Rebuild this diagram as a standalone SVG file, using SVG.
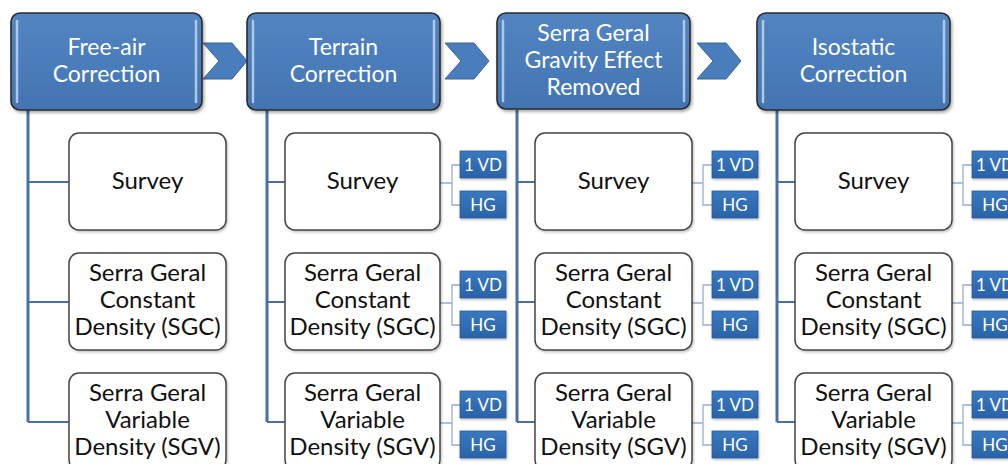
<svg xmlns="http://www.w3.org/2000/svg" width="1008" height="464" viewBox="0 0 1008 464">
  <defs>
    <linearGradient id="hdrFill" x1="0" y1="0" x2="0" y2="1">
      <stop offset="0" stop-color="#5285c2"/>
      <stop offset="1" stop-color="#4374b2"/>
    </linearGradient>
    <linearGradient id="tagFill" x1="0" y1="0" x2="0" y2="1">
      <stop offset="0" stop-color="#3a78c0"/>
      <stop offset="1" stop-color="#2a63a8"/>
    </linearGradient>
    <filter id="shadow" x="-10%" y="-10%" width="125%" height="130%">
      <feDropShadow dx="1.5" dy="2" stdDeviation="1.5" flood-color="#000" flood-opacity="0.35"/>
    </filter>
    <filter id="softShadow" x="-10%" y="-10%" width="125%" height="130%">
      <feDropShadow dx="1" dy="1.5" stdDeviation="1" flood-color="#000" flood-opacity="0.25"/>
    </filter>
  </defs>
  <style>
    .hdr { fill: url(#hdrFill); stroke: #2b2b2b; stroke-width: 1.6; filter: url(#shadow); }
    .gloss { stroke: #b9d0ec; stroke-width: 2.5; stroke-linecap: round; opacity: 0.9; }
    .hdrText { font-family: Lato, "Open Sans", sans-serif; font-size: 23px; fill: #ffffff; text-anchor: middle; }
    .chev { fill: #4a7dbb; stroke: #3a6599; stroke-width: 1; }
    .child { fill: #ffffff; stroke: #454545; stroke-width: 1.5; filter: url(#softShadow); }
    .childText { font-family: Lato, "Open Sans", sans-serif; font-size: 24px; fill: #111111; text-anchor: middle; }
    .tag { fill: url(#tagFill); stroke: #285a98; stroke-width: 0.8; filter: url(#softShadow); }
    .tagText { font-family: Lato, "Open Sans", sans-serif; font-size: 17px; fill: #ffffff; text-anchor: middle; }
    .trunk { fill: none; stroke: #4670a6; stroke-width: 3; }
    .branch { fill: none; stroke: #4670a6; stroke-width: 2.2; }
    .bracket { fill: none; stroke: #97afcf; stroke-width: 1.3; }
  </style>

  <!-- process arrows between stages -->
  <g id="chevrons">
    <polygon class="chev" points="203,43 232,43 247,61 232,79 203,79 219,61"/>
    <polygon class="chev" points="445,43 474,43 489,61 474,79 445,79 461,61"/>
    <polygon class="chev" points="697,43 726,43 741,61 726,79 697,79 713,61"/>
  </g>

  <!-- connectors: stage trunks, row branches, tag brackets -->
  <g id="connectors">
    <path class="trunk" d="M28,110 V422"/>
    <path class="trunk" d="M267,110 V422"/>
    <path class="trunk" d="M517,110 V422"/>
    <path class="trunk" d="M777,110 V422"/>

    <path class="branch" d="M28,182 H69 M28,302 H69 M28,422 H69"/>
    <path class="branch" d="M267,182 H285 M267,302 H285 M267,422 H285"/>
    <path class="branch" d="M517,182 H535 M517,302 H535 M517,422 H535"/>
    <path class="branch" d="M777,182 H795 M777,302 H795 M777,422 H795"/>

    <path class="bracket" d="M440,183 H452 M461,165 H452 V205 H461"/>
    <path class="bracket" d="M440,303 H452 M461,285 H452 V325 H461"/>
    <path class="bracket" d="M440,423 H452 M461,405 H452 V445 H461"/>
    <path class="bracket" d="M692,183 H703 M712,165 H703 V205 H712"/>
    <path class="bracket" d="M692,303 H703 M712,285 H703 V325 H712"/>
    <path class="bracket" d="M692,423 H703 M712,405 H703 V445 H712"/>
    <path class="bracket" d="M952,183 H963 M972,165 H963 V205 H972"/>
    <path class="bracket" d="M952,303 H963 M972,285 H963 V325 H972"/>
    <path class="bracket" d="M952,423 H963 M972,405 H963 V445 H972"/>
  </g>

  <!-- stage headers -->
  <g id="stage-free-air">
    <rect class="hdr" x="11" y="13" width="191" height="97" rx="9"/>
    <path class="gloss" d="M17,21 V102 M196,21 V102"/>
    <text class="hdrText" x="106.5" y="55">Free-air</text>
    <text class="hdrText" x="106.5" y="82">Correction</text>
  </g>
  <g id="stage-terrain">
    <rect class="hdr" x="247" y="13" width="193" height="97" rx="9"/>
    <path class="gloss" d="M253,21 V102 M434,21 V102"/>
    <text class="hdrText" x="343.5" y="55">Terrain</text>
    <text class="hdrText" x="343.5" y="82">Correction</text>
  </g>
  <g id="stage-sg-removed">
    <rect class="hdr" x="497" y="13" width="193" height="96" rx="9"/>
    <path class="gloss" d="M503,21 V101 M684,21 V101"/>
    <text class="hdrText" x="593.5" y="41">Serra Geral</text>
    <text class="hdrText" x="593.5" y="68">Gravity Effect</text>
    <text class="hdrText" x="593.5" y="95">Removed</text>
  </g>
  <g id="stage-isostatic">
    <rect class="hdr" x="757" y="13" width="193" height="97" rx="9"/>
    <path class="gloss" d="M763,21 V102 M944,21 V102"/>
    <text class="hdrText" x="853.5" y="55">Isostatic</text>
    <text class="hdrText" x="853.5" y="82">Correction</text>
  </g>

  <!-- column 1 -->
  <g id="c1-survey">
    <rect class="child" x="69" y="133" width="157" height="97" rx="10"/>
    <text class="childText" x="147.5" y="189">Survey</text>
  </g>
  <g id="c1-sgc">
    <rect class="child" x="69" y="253" width="157" height="97" rx="10"/>
    <text class="childText" x="147.5" y="281">Serra Geral</text>
    <text class="childText" x="147.5" y="308">Constant</text>
    <text class="childText" x="147.5" y="335">Density (SGC)</text>
  </g>
  <g id="c1-sgv">
    <rect class="child" x="69" y="373" width="157" height="97" rx="10"/>
    <text class="childText" x="147.5" y="401">Serra Geral</text>
    <text class="childText" x="147.5" y="428">Variable</text>
    <text class="childText" x="147.5" y="455">Density (SGV)</text>
  </g>

  <!-- column 2 -->
  <g id="c2-survey">
    <rect class="child" x="285" y="133" width="155" height="97" rx="10"/>
    <text class="childText" x="362.5" y="189">Survey</text>
  </g>
  <g id="c2-sgc">
    <rect class="child" x="285" y="253" width="155" height="97" rx="10"/>
    <text class="childText" x="362.5" y="281">Serra Geral</text>
    <text class="childText" x="362.5" y="308">Constant</text>
    <text class="childText" x="362.5" y="335">Density (SGC)</text>
  </g>
  <g id="c2-sgv">
    <rect class="child" x="285" y="373" width="155" height="97" rx="10"/>
    <text class="childText" x="362.5" y="401">Serra Geral</text>
    <text class="childText" x="362.5" y="428">Variable</text>
    <text class="childText" x="362.5" y="455">Density (SGV)</text>
  </g>
  <g id="c2-tags">
    <rect class="tag" x="460" y="151" width="46" height="27"/>
    <text class="tagText" x="483" y="170.5">1 VD</text>
    <rect class="tag" x="460" y="191" width="46" height="27"/>
    <text class="tagText" x="483" y="210.5">HG</text>
    <rect class="tag" x="460" y="271" width="46" height="27"/>
    <text class="tagText" x="483" y="290.5">1 VD</text>
    <rect class="tag" x="460" y="311" width="46" height="27"/>
    <text class="tagText" x="483" y="330.5">HG</text>
    <rect class="tag" x="460" y="391" width="46" height="27"/>
    <text class="tagText" x="483" y="410.5">1 VD</text>
    <rect class="tag" x="460" y="431" width="46" height="27"/>
    <text class="tagText" x="483" y="450.5">HG</text>
  </g>

  <!-- column 3 -->
  <g id="c3-survey">
    <rect class="child" x="535" y="133" width="157" height="97" rx="10"/>
    <text class="childText" x="613.5" y="189">Survey</text>
  </g>
  <g id="c3-sgc">
    <rect class="child" x="535" y="253" width="157" height="97" rx="10"/>
    <text class="childText" x="613.5" y="281">Serra Geral</text>
    <text class="childText" x="613.5" y="308">Constant</text>
    <text class="childText" x="613.5" y="335">Density (SGC)</text>
  </g>
  <g id="c3-sgv">
    <rect class="child" x="535" y="373" width="157" height="97" rx="10"/>
    <text class="childText" x="613.5" y="401">Serra Geral</text>
    <text class="childText" x="613.5" y="428">Variable</text>
    <text class="childText" x="613.5" y="455">Density (SGV)</text>
  </g>
  <g id="c3-tags">
    <rect class="tag" x="712" y="151" width="46" height="27"/>
    <text class="tagText" x="735" y="170.5">1 VD</text>
    <rect class="tag" x="712" y="191" width="46" height="27"/>
    <text class="tagText" x="735" y="210.5">HG</text>
    <rect class="tag" x="712" y="271" width="46" height="27"/>
    <text class="tagText" x="735" y="290.5">1 VD</text>
    <rect class="tag" x="712" y="311" width="46" height="27"/>
    <text class="tagText" x="735" y="330.5">HG</text>
    <rect class="tag" x="712" y="391" width="46" height="27"/>
    <text class="tagText" x="735" y="410.5">1 VD</text>
    <rect class="tag" x="712" y="431" width="46" height="27"/>
    <text class="tagText" x="735" y="450.5">HG</text>
  </g>

  <!-- column 4 -->
  <g id="c4-survey">
    <rect class="child" x="795" y="133" width="157" height="97" rx="10"/>
    <text class="childText" x="873.5" y="189">Survey</text>
  </g>
  <g id="c4-sgc">
    <rect class="child" x="795" y="253" width="157" height="97" rx="10"/>
    <text class="childText" x="873.5" y="281">Serra Geral</text>
    <text class="childText" x="873.5" y="308">Constant</text>
    <text class="childText" x="873.5" y="335">Density (SGC)</text>
  </g>
  <g id="c4-sgv">
    <rect class="child" x="795" y="373" width="157" height="97" rx="10"/>
    <text class="childText" x="873.5" y="401">Serra Geral</text>
    <text class="childText" x="873.5" y="428">Variable</text>
    <text class="childText" x="873.5" y="455">Density (SGV)</text>
  </g>
  <g id="c4-tags">
    <rect class="tag" x="972" y="151" width="46" height="27"/>
    <text class="tagText" x="995" y="170.5">1 VD</text>
    <rect class="tag" x="972" y="191" width="46" height="27"/>
    <text class="tagText" x="995" y="210.5">HG</text>
    <rect class="tag" x="972" y="271" width="46" height="27"/>
    <text class="tagText" x="995" y="290.5">1 VD</text>
    <rect class="tag" x="972" y="311" width="46" height="27"/>
    <text class="tagText" x="995" y="330.5">HG</text>
    <rect class="tag" x="972" y="391" width="46" height="27"/>
    <text class="tagText" x="995" y="410.5">1 VD</text>
    <rect class="tag" x="972" y="431" width="46" height="27"/>
    <text class="tagText" x="995" y="450.5">HG</text>
  </g>
</svg>
